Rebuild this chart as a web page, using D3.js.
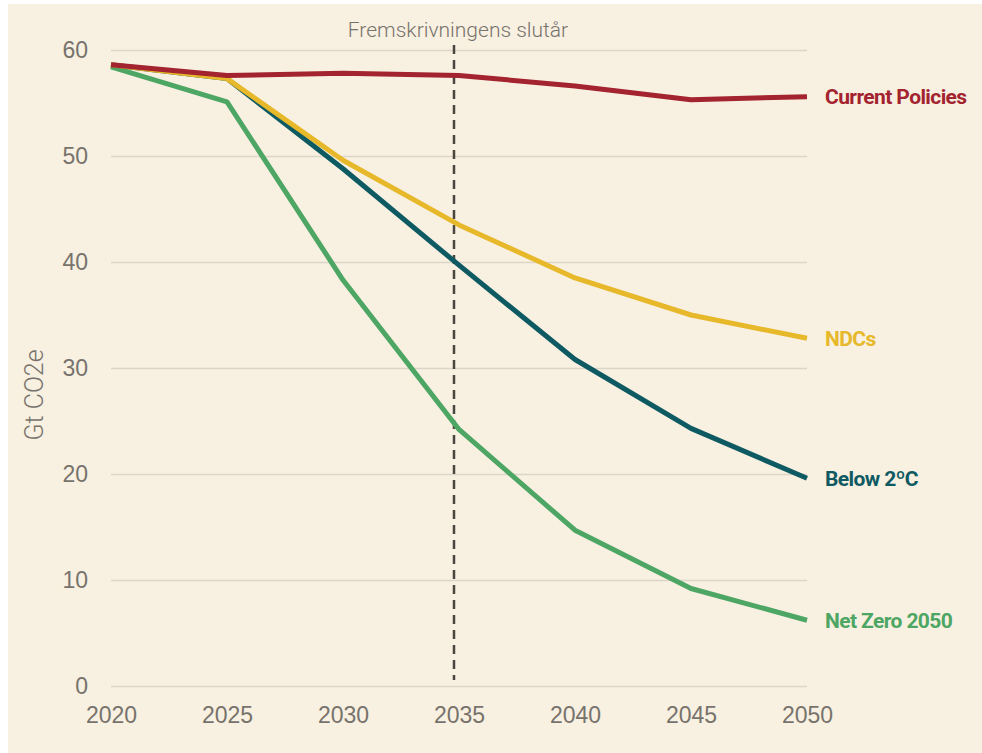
<!DOCTYPE html>
<html>
<head>
    <meta http-equiv="content-type" content="text/html; charset=utf-8">
    <script type="text/javascript" src="https://cdn.jsdelivr.net/npm/d3@7"></script>
    <style>
        body { margin: 0; background: #fff; }
        svg { display: block; font-family: Roboto, "Noto Sans", sans-serif; }
    </style>
</head>
<body>
<div class='chart'></div>
<script type="text/javascript">
// ======================
// data
// ======================
var years = [2020, 2025, 2030, 2035, 2040, 2045, 2050];
var currentPolicies = [58.6, 57.6, 57.8, 57.6, 56.6, 55.3, 55.6];
var ndcs = [58.6, 57.3, 49.6, 43.5, 38.5, 35.0, 32.8];
var below2 = [58.6, 57.3, 48.8, 39.7, 30.8, 24.3, 19.6];
var netZero = [58.4, 55.1, 38.3, 24.2, 14.7, 9.2, 6.2];
var seriesNames = ['Current Policies', 'NDCs', 'Below 2ºC', 'Net Zero 2050'];
var yTicks = [0, 10, 20, 30, 40, 50, 60];
var endYear = 2035;
var endLabel = 'Fremskrivningens slutår';
var yTitle = 'Gt CO2e';

var width = 982,
    height = 753;

var colors = ['#a3232f', '#e6b82a', '#0e5a62', '#4da663'];
var values = [currentPolicies, ndcs, below2, netZero];

var svg = d3.select('.chart')
        .append('svg')
        .attr('width', width)
        .attr('height', height);

// panel background
svg.append('rect')
        .attr('x', 8)
        .attr('y', 4)
        .attr('width', width - 8)
        .attr('height', height - 4)
        .attr('fill', '#f8f0e1');

var x = d3.scaleLinear().domain([2020, 2050]).range([111, 807]);
var y = d3.scaleLinear().domain([0, 60]).range([686, 50]);

// ======================
// grid + axes
// ======================
var yAxis = d3.axisLeft(y)
        .tickValues(yTicks)
        .tickSize(-(x.range()[1] - x.range()[0]))
        .tickPadding(23);
var gy = svg.append('g')
        .attr('transform', 'translate(' + x.range()[0] + ',0)')
        .call(yAxis);
gy.select('.domain').remove();
gy.selectAll('line')
        .attr('stroke', '#dcd6ca')
        .attr('stroke-width', 1.5);
gy.selectAll('text')
        .attr('fill', '#77736c')
        .attr('font-size', 23)
        .attr('font-weight', 300);

var xAxis = d3.axisBottom(x)
        .tickValues(years)
        .tickFormat(d3.format('d'))
        .tickSize(0)
        .tickPadding(21);
var gx = svg.append('g')
        .attr('transform', 'translate(0,' + y(0) + ')')
        .call(xAxis);
gx.select('.domain').remove();
gx.selectAll('text')
        .attr('fill', '#77736c')
        .attr('font-size', 23)
        .attr('font-weight', 300);

svg.append('text')
        .attr('transform', 'translate(43,395) rotate(-90)')
        .attr('text-anchor', 'middle')
        .attr('fill', '#77736c')
        .attr('font-size', 25)
        .attr('font-weight', 300)
        .text(yTitle);

// ======================
// projection end marker
// ======================
svg.append('line')
        .attr('x1', x(endYear) - 5)
        .attr('x2', x(endYear) - 5)
        .attr('y1', 45)
        .attr('y2', 680)
        .attr('stroke', '#4a4640')
        .attr('stroke-width', 2.5)
        .attr('stroke-dasharray', '9,6');

svg.append('text')
        .attr('x', x(endYear) - 1)
        .attr('y', 37)
        .attr('text-anchor', 'middle')
        .attr('fill', '#77736c')
        .attr('font-size', 21)
        .attr('font-weight', 300)
        .text(endLabel);

// ======================
// lines
// ======================
var line = d3.line()
        .x(function (d, i) { return x(years[i]); })
        .y(function (d) { return y(d); });

for (var i = values.length - 1; i >= 0; i--) {
    svg.append('path')
            .attr('d', line(values[i]))
            .attr('fill', 'none')
            .attr('stroke', colors[i])
            .attr('stroke-width', 5)
            .attr('stroke-linejoin', 'round');
}

// end labels
for (var j = 0; j < values.length; j++) {
    var last = values[j][values[j].length - 1];
    svg.append('text')
            .attr('x', x(2050) + 18)
            .attr('y', y(last))
            .attr('dy', '0.35em')
            .attr('fill', colors[j])
            .attr('font-size', 21)
            .attr('font-weight', 700)
            .attr('letter-spacing', -0.6)
            .text(seriesNames[j]);
}
</script>
</body>
</html>
